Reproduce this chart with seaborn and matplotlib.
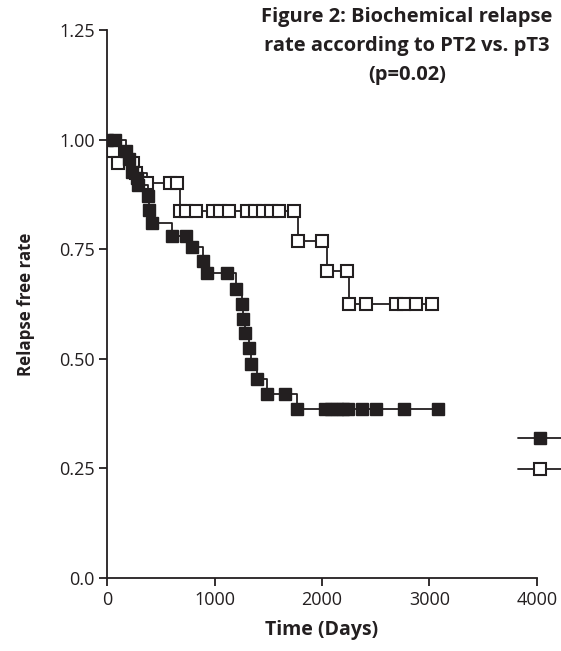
# Kaplan-Meier style relapse free curves, PT2 vs pT3
import matplotlib
matplotlib.use('Agg')

import matplotlib.pyplot as plt
import seaborn as sns
import pandas as pd

# filled squares
pt2_days = [0, 70, 180, 200, 229, 276, 290, 381, 393, 418, 605, 735, 790, 893, 930, 1116,
            1200, 1256, 1265, 1284, 1321, 1340, 1395, 1488, 1656,
            1767, 2028, 2084, 2140, 2195, 2242, 2372, 2502, 2763, 3079]
pt2_rate = [1.0, 1.0, 0.973, 0.955, 0.927, 0.913, 0.897, 0.872, 0.84, 0.81, 0.78, 0.78,
            0.754, 0.722, 0.695, 0.695, 0.659, 0.625, 0.59, 0.559, 0.525, 0.489, 0.455,
            0.42, 0.42] + [0.385] * 10

# open squares
pt3_days = [0, 56, 100, 240, 270, 372, 586, 651,
            675, 735, 828, 986, 1051, 1135, 1302, 1377, 1451, 1526, 1600, 1740,
            1780, 2000, 2050, 2235, 2251, 2409, 2688, 2763, 2874, 3023]
pt3_rate = [1.0, 0.973, 0.946, 0.946, 0.923, 0.9, 0.9, 0.9] + [0.836] * 12 + \
           [0.768, 0.768, 0.70, 0.70] + [0.625] * 6

x_ticks = [0, 1000, 2000, 3000, 4000]
y_ticks = [0.0, 0.25, 0.50, 0.75, 1.00, 1.25]
y_labels = ['0.0', '0.25', '0.50', '0.75', '1.00', '1.25']

ink = '#231f20'

sns.set_style('ticks')
plt.rcParams['font.family'] = ['Open Sans', 'DejaVu Sans']

df2 = pd.DataFrame({'days': pt2_days, 'rate': pt2_rate})
df3 = pd.DataFrame({'days': pt3_days, 'rate': pt3_rate})

fig = plt.figure(figsize=(5.61, 6.51), dpi=100)
ax = fig.add_axes([0.191, 0.112, 0.766, 0.842])

sns.lineplot(ax=ax, data=df3, x='days', y='rate', estimator=None, sort=False,
             drawstyle='steps-post', color=ink, lw=1.3, marker='s', ms=8.2,
             mfc='white', mec=ink, mew=1.5, markevery=list(range(1, len(df3))))
sns.lineplot(ax=ax, data=df2, x='days', y='rate', estimator=None, sort=False,
             drawstyle='steps-post', color=ink, lw=1.3, marker='s', ms=8.2,
             mfc=ink, mec=ink, mew=1.0)

ax.set_xlim(0, 4000)
ax.set_ylim(0, 1.25)
ax.set_xticks(x_ticks)
ax.set_yticks(y_ticks)
ax.set_yticklabels(y_labels)
ax.tick_params(direction='out', length=6, width=1.3, colors=ink, labelsize=13, pad=3)
for s in ['left', 'bottom']:
    ax.spines[s].set_linewidth(1.3)
    ax.spines[s].set_color(ink)
sns.despine(ax=ax)

ax.set_xlabel('Time (Days)', fontsize=14, fontweight='bold', color=ink, labelpad=8)
ax.set_ylabel('Relapse free rate', fontsize=12.2, fontweight='bold', color=ink, labelpad=17)

fig.text(0.725, 0.99, 'Figure 2: Biochemical relapse\nrate according to PT2 vs. pT3\n(p=0.02)',
         ha='center', va='top', fontsize=14.5, fontweight='bold', color=ink, linespacing=1.6)

# legend handles without text, sitting right of the axis end
leg = ax.legend(ax.get_lines()[::-1], ['', ''], loc='center', bbox_to_anchor=(1.007, 0.224),
                frameon=False, handlelength=2.6, handletextpad=0, borderpad=0,
                labelspacing=0.95, fontsize=12, markerscale=1.0)
leg.set_clip_on(False)

fig.savefig('out.png', dpi=100)
plt.close(fig)
